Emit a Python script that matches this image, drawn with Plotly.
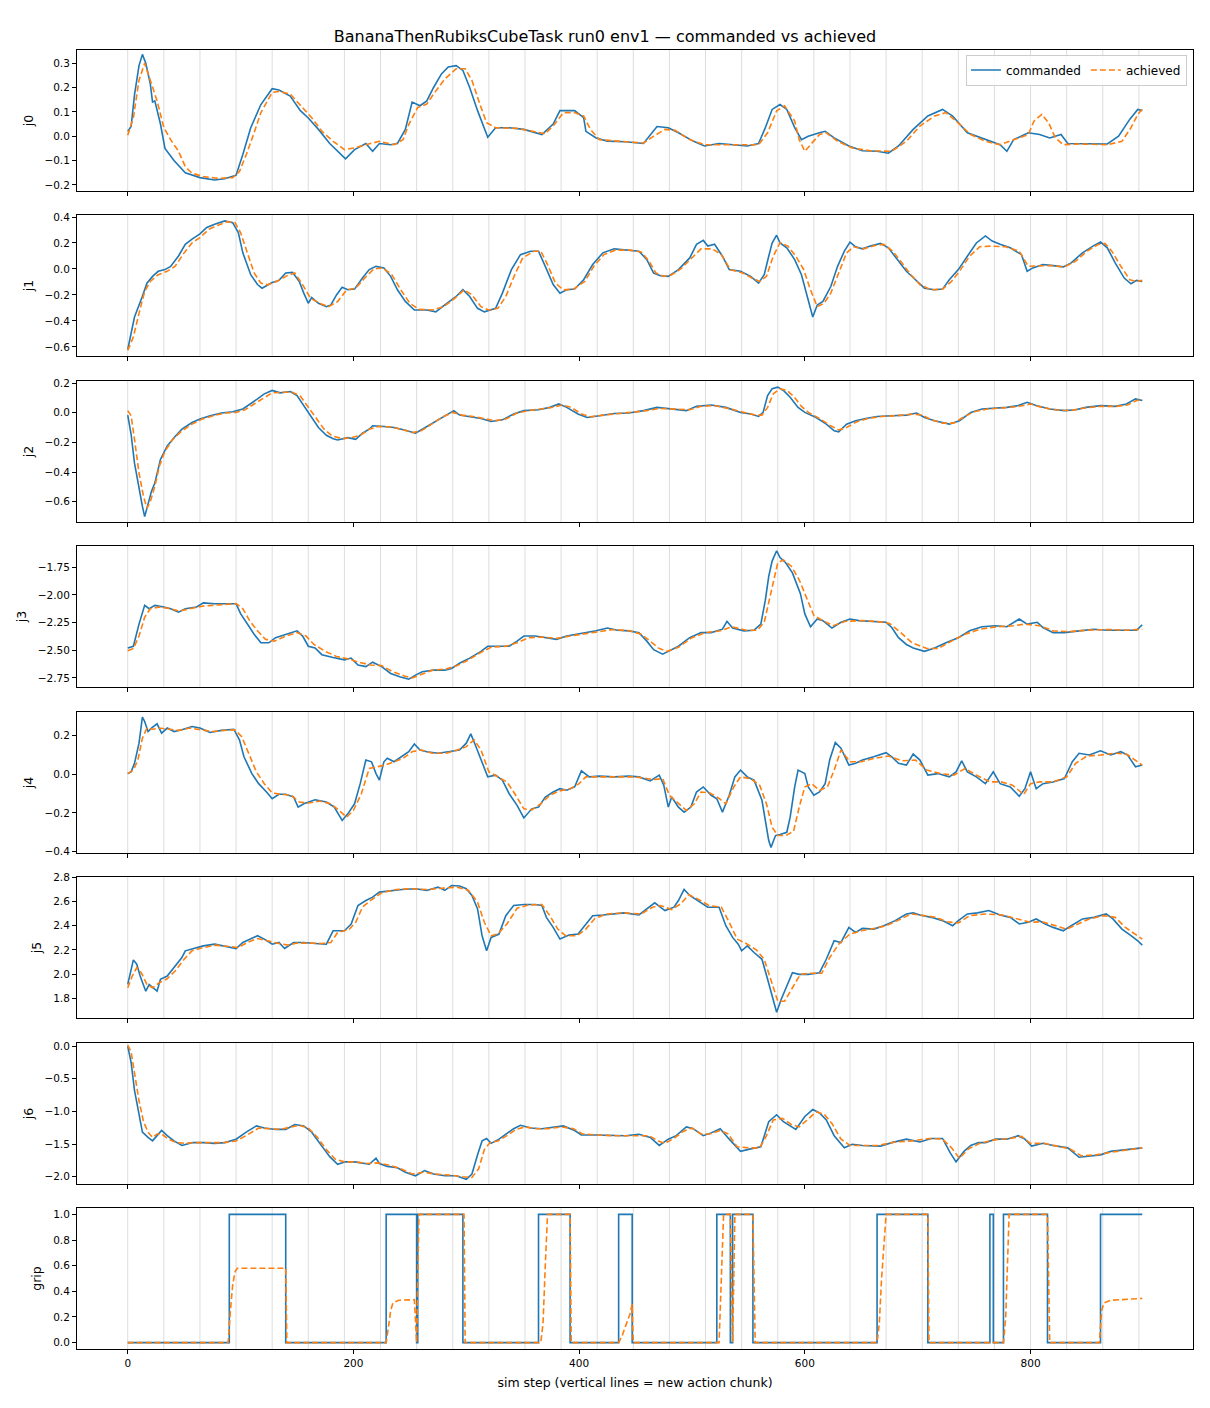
import plotly.graph_objects as go
from plotly.subplots import make_subplots

# sim steps where a new action chunk starts (grey vertical lines)
chunk_steps = [0, 32, 64, 96, 128, 160, 192, 224, 256, 288, 320, 352, 384, 416, 448,
               480, 512, 544, 576, 608, 640, 672, 704, 736, 768, 800, 832, 864, 896]

# ---- j0 ----
j0_cmd_step = [0, 3, 6, 10, 13, 16, 20, 22, 24, 29,
               33, 41, 51, 64, 77, 86, 96, 102, 109, 118,
               128, 134, 144, 153, 160, 169, 179, 186, 193, 201,
               211, 217, 223, 233, 239, 246, 252, 259, 265, 271,
               278, 284, 291, 297, 303, 310, 316, 319, 326, 338,
               351, 367, 377, 383, 396, 404, 406, 415, 425, 441,
               457, 469, 479, 488, 501, 511, 524, 536, 549, 559,
               565, 571, 578, 584, 591, 597, 603, 613, 618, 626,
               639, 651, 664, 674, 683, 696, 709, 722, 731, 744,
               757, 773, 779, 785, 798, 808, 817, 827, 833, 843,
               856, 868, 878, 888, 895, 899]
j0_cmd = [0.02, 0.04, 0.17, 0.29, 0.336, 0.30, 0.215, 0.14, 0.145, 0.05,
          -0.05, -0.10, -0.15, -0.17, -0.18, -0.175, -0.16, -0.075, 0.035, 0.13,
          0.195, 0.19, 0.165, 0.105, 0.075, 0.028, -0.03, -0.062, -0.093, -0.055,
          -0.03, -0.062, -0.03, -0.035, -0.03, 0.028, 0.14, 0.125, 0.145, 0.20,
          0.256, 0.284, 0.29, 0.27, 0.20, 0.105, 0.035, -0.004, 0.035, 0.035,
          0.028, 0.007, 0.05, 0.105, 0.105, 0.076, 0.02, -0.007, -0.02, -0.023,
          -0.03, 0.04, 0.035, 0.014, -0.02, -0.04, -0.03, -0.035, -0.04, -0.03,
          0.035, 0.11, 0.13, 0.11, 0.035, -0.014, 0.0, 0.014, 0.02, -0.007,
          -0.04, -0.06, -0.062, -0.07, -0.04, 0.028, 0.083, 0.11, 0.083, 0.014,
          -0.007, -0.035, -0.062, -0.014, 0.014, 0.007, -0.007, 0.007, -0.03, -0.03,
          -0.032, -0.032, 0.0, 0.07, 0.11, 0.105]
j0_ach_step = [0, 5, 10, 15, 20, 26, 32, 38, 45, 51,
               57, 67, 80, 93, 99, 105, 112, 118, 128, 134,
               144, 153, 163, 172, 182, 192, 201, 211, 223, 236,
               244, 249, 257, 265, 271, 281, 291, 299, 305, 312,
               318, 326, 345, 361, 370, 378, 386, 396, 404, 410,
               418, 441, 457, 466, 476, 485, 498, 511, 536, 559,
               567, 575, 582, 591, 595, 600, 605, 613, 619, 629,
               642, 658, 677, 690, 702, 715, 725, 734, 747, 760,
               773, 785, 798, 803, 810, 816, 822, 829, 843, 868,
               881, 889, 895, 899]
j0_ach = [0.004, 0.076, 0.23, 0.30, 0.23, 0.145, 0.035, -0.014, -0.062, -0.125,
          -0.152, -0.166, -0.173, -0.17, -0.145, -0.076, 0.014, 0.097, 0.18, 0.184,
          0.173, 0.125, 0.076, 0.021, -0.021, -0.055, -0.048, -0.035, -0.021, -0.035,
          -0.014, 0.048, 0.118, 0.132, 0.173, 0.235, 0.277, 0.277, 0.229, 0.132,
          0.055, 0.035, 0.032, 0.018, 0.01, 0.048, 0.097, 0.097, 0.083, 0.028,
          -0.014, -0.023, -0.028, 0.0, 0.028, 0.024, -0.014, -0.035, -0.035, -0.035,
          0.014, 0.104, 0.125, 0.062, -0.014, -0.062, -0.035, 0.007, 0.014, -0.021,
          -0.048, -0.06, -0.062, -0.021, 0.042, 0.083, 0.097, 0.062, 0.007, -0.021,
          -0.035, -0.014, 0.007, 0.062, 0.09, 0.055, -0.007, -0.035, -0.032, -0.035,
          -0.021, 0.035, 0.09, 0.111]

# ---- j1 ----
j1_cmd_step = [0, 6, 13, 17, 22, 27, 33, 38, 45, 51,
               57, 64, 70, 77, 86, 93, 98, 102, 109, 115,
               119, 128, 134, 140, 146, 152, 156, 160, 163, 169,
               176, 180, 185, 190, 195, 201, 208, 214, 220, 227,
               233, 239, 246, 254, 265, 273, 281, 291, 297, 303,
               310, 316, 326, 332, 340, 348, 357, 364, 370, 377,
               383, 389, 396, 404, 412, 421, 431, 440, 453, 460,
               466, 472, 479, 488, 498, 504, 510, 514, 520, 527,
               533, 543, 552, 559, 564, 568, 571, 575, 578, 584,
               591, 597, 603, 607, 611, 616, 623, 629, 635, 640,
               645, 651, 658, 667, 674, 680, 690, 698, 706, 715,
               722, 728, 736, 744, 752, 760, 766, 773, 782, 792,
               797, 802, 811, 820, 829, 836, 846, 856, 862, 868,
               875, 883, 889, 894, 899]
j1_cmd = [-0.62, -0.37, -0.21, -0.11, -0.057, -0.018, -0.005, 0.02, 0.10, 0.19,
          0.23, 0.27, 0.32, 0.345, 0.37, 0.357, 0.28, 0.124, -0.044, -0.12,
          -0.148, -0.104, -0.088, -0.031, -0.026, -0.096, -0.186, -0.264, -0.22, -0.264,
          -0.29, -0.277, -0.2, -0.14, -0.16, -0.155, -0.07, -0.005, 0.02, 0.008,
          -0.057, -0.16, -0.25, -0.316, -0.316, -0.33, -0.277, -0.212, -0.16, -0.212,
          -0.303, -0.33, -0.303, -0.186, -0.005, 0.11, 0.137, 0.137, 0.02, -0.12,
          -0.186, -0.16, -0.155, -0.083, 0.034, 0.124, 0.155, 0.15, 0.137, 0.072,
          -0.031, -0.052, -0.057, -0.005, 0.085, 0.19, 0.22, 0.176, 0.19, 0.098,
          -0.005, -0.018, -0.057, -0.109, -0.044, 0.098, 0.2, 0.26, 0.2, 0.163,
          0.072, -0.044, -0.24, -0.37, -0.277, -0.25, -0.135, 0.02, 0.137, 0.207,
          0.171, 0.155, 0.176, 0.197, 0.163, 0.098, -0.018, -0.083, -0.148, -0.16,
          -0.155, -0.083, -0.005, 0.098, 0.2, 0.254, 0.215, 0.19, 0.163, 0.11,
          -0.018, 0.008, 0.034, 0.026, 0.016, 0.047, 0.124, 0.18, 0.207, 0.163,
          0.047, -0.07, -0.114, -0.088, -0.096]
j1_ach_step = [0, 5, 10, 15, 20, 27, 35, 42, 50, 57,
               64, 72, 80, 88, 95, 100, 106, 112, 118, 124,
               132, 140, 148, 155, 162, 170, 178, 186, 194, 202,
               210, 218, 226, 234, 242, 250, 258, 270, 280, 290,
               298, 305, 313, 320, 328, 335, 343, 350, 360, 366,
               372, 379, 386, 395, 405, 413, 422, 432, 445, 455,
               462, 468, 475, 482, 490, 500, 508, 518, 526, 534,
               545, 553, 560, 566, 572, 578, 585, 592, 599, 605,
               611, 617, 623, 630, 637, 643, 652, 662, 670, 678,
               686, 694, 702, 712, 722, 730, 738, 746, 755, 765,
               778, 790, 798, 806, 818, 830, 840, 850, 860, 866,
               872, 880, 888, 894, 899]
j1_ach = [-0.627, -0.523, -0.342, -0.174, -0.096, -0.044, -0.018, 0.021, 0.124, 0.202,
          0.241, 0.306, 0.337, 0.363, 0.357, 0.28, 0.124, -0.031, -0.109, -0.122,
          -0.096, -0.057, -0.031, -0.122, -0.225, -0.264, -0.29, -0.251, -0.161, -0.148,
          -0.07, 0.0, 0.008, -0.044, -0.161, -0.264, -0.311, -0.316, -0.29, -0.225,
          -0.161, -0.199, -0.29, -0.316, -0.303, -0.212, -0.044, 0.085, 0.137, 0.137,
          0.034, -0.109, -0.161, -0.155, -0.096, 0.021, 0.111, 0.145, 0.145, 0.13,
          0.06, -0.031, -0.057, -0.044, 0.0, 0.085, 0.155, 0.155, 0.111, -0.005,
          -0.031, -0.07, -0.096, -0.057, 0.098, 0.202, 0.176, 0.098, -0.005, -0.161,
          -0.29, -0.264, -0.186, -0.031, 0.124, 0.171, 0.155, 0.181, 0.189, 0.137,
          0.047, -0.044, -0.122, -0.161, -0.155, -0.096, -0.005, 0.098, 0.171, 0.176,
          0.171, 0.137, 0.021, 0.021, 0.026, 0.016, 0.06, 0.137, 0.189, 0.197,
          0.137, 0.021, -0.083, -0.096, -0.088]

# ---- j2 ----
j2_cmd_step = [0, 3, 6, 10, 13, 15, 18, 21, 24, 29,
               35, 41, 48, 57, 64, 73, 83, 93, 102, 109,
               115, 121, 128, 135, 144, 150, 156, 163, 169, 176,
               182, 186, 195, 202, 208, 214, 217, 227, 236, 246,
               255, 261, 271, 281, 289, 294, 303, 313, 322, 332,
               342, 351, 364, 374, 382, 389, 399, 407, 418, 431,
               444, 457, 469, 482, 495, 504, 517, 530, 543, 552,
               559, 563, 567, 571, 576, 581, 587, 594, 600, 610,
               619, 626, 630, 637, 645, 654, 664, 677, 690, 699,
               706, 715, 728, 737, 747, 757, 769, 779, 789, 797,
               805, 817, 830, 840, 849, 862, 875, 885, 893, 899]
j2_cmd = [-0.016, -0.145, -0.34, -0.52, -0.63, -0.70, -0.61, -0.53, -0.474, -0.315,
          -0.224, -0.168, -0.111, -0.066, -0.043, -0.02, -0.002, 0.007, 0.025, 0.059,
          0.093, 0.127, 0.15, 0.134, 0.143, 0.116, 0.048, -0.032, -0.1, -0.152,
          -0.175, -0.184, -0.168, -0.179, -0.138, -0.111, -0.088, -0.093, -0.1, -0.118,
          -0.138, -0.111, -0.066, -0.02, 0.014, -0.016, -0.025, -0.039, -0.059, -0.048,
          -0.009, 0.014, 0.02, 0.036, 0.059, 0.036, -0.009, -0.032, -0.02, -0.005,
          -0.002, 0.014, 0.036, 0.025, 0.014, 0.043, 0.052, 0.036, 0.002, -0.009,
          -0.025, 0.002, 0.116, 0.161, 0.172, 0.15, 0.104, 0.036, 0.002, -0.032,
          -0.077, -0.122, -0.129, -0.077, -0.054, -0.039, -0.025, -0.02, -0.016, -0.002,
          -0.032, -0.054, -0.077, -0.054, 0.002, 0.025, 0.029, 0.036, 0.048, 0.07,
          0.048, 0.025, 0.014, 0.02, 0.036, 0.048, 0.043, 0.059, 0.093, 0.082]
j2_ach_step = [0, 3, 6, 10, 14, 17, 20, 24, 28, 33,
               40, 48, 57, 66, 76, 86, 96, 104, 112, 120,
               128, 138, 146, 153, 160, 167, 174, 181, 190, 198,
               206, 214, 222, 232, 242, 252, 260, 268, 278, 288,
               296, 306, 316, 325, 335, 345, 355, 366, 376, 385,
               393, 402, 410, 422, 440, 460, 472, 486, 498, 508,
               520, 532, 546, 556, 562, 567, 572, 578, 584, 590,
               597, 604, 613, 622, 630, 637, 646, 656, 668, 682,
               696, 704, 712, 722, 732, 740, 750, 762, 775, 790,
               800, 810, 822, 835, 848, 862, 876, 886, 894, 899]
j2_ach = [0.014, -0.02, -0.179, -0.406, -0.565, -0.644, -0.599, -0.497, -0.361, -0.259,
          -0.179, -0.122, -0.077, -0.043, -0.02, -0.002, 0.002, 0.02, 0.059, 0.098,
          0.134, 0.138, 0.138, 0.111, 0.036, -0.043, -0.111, -0.156, -0.175, -0.168,
          -0.152, -0.111, -0.093, -0.095, -0.111, -0.134, -0.122, -0.084, -0.032, 0.002,
          -0.016, -0.025, -0.039, -0.054, -0.043, -0.002, 0.014, 0.025, 0.036, 0.052,
          0.036, -0.009, -0.027, -0.016, -0.002, 0.014, 0.029, 0.025, 0.02, 0.043,
          0.048, 0.029, 0.002, -0.016, -0.016, 0.036, 0.127, 0.161, 0.15, 0.111,
          0.043, -0.002, -0.039, -0.084, -0.116, -0.1, -0.061, -0.039, -0.025, -0.02,
          -0.009, -0.016, -0.048, -0.07, -0.07, -0.032, 0.007, 0.025, 0.032, 0.043,
          0.059, 0.036, 0.02, 0.014, 0.032, 0.043, 0.043, 0.052, 0.082, 0.088]

# ---- j3 ----
j3_cmd_step = [0, 5, 10, 15, 19, 24, 32, 38, 45, 51,
               61, 67, 77, 86, 96, 100, 105, 112, 118, 125,
               131, 140, 150, 155, 160, 166, 172, 182, 192, 198,
               204, 211, 217, 225, 233, 241, 249, 255, 261, 271,
               281, 287, 294, 303, 313, 319, 329, 338, 345, 351,
               361, 370, 380, 389, 399, 409, 415, 425, 434, 444,
               453, 460, 466, 474, 480, 488, 498, 508, 517, 527,
               531, 536, 546, 555, 561, 565, 568, 571, 575, 578,
               583, 589, 596, 600, 605, 611, 616, 624, 632, 640,
               648, 658, 667, 672, 677, 683, 690, 696, 706, 715,
               725, 736, 746, 757, 769, 779, 790, 797, 806, 811,
               820, 830, 843, 856, 868, 881, 894, 899]
j3_cmd = [-2.479, -2.464, -2.264, -2.095, -2.125, -2.095, -2.11, -2.125, -2.156, -2.125,
          -2.11, -2.073, -2.08, -2.08, -2.08, -2.17, -2.248, -2.356, -2.433, -2.433,
          -2.387, -2.356, -2.325, -2.372, -2.464, -2.479, -2.54, -2.565, -2.587, -2.571,
          -2.633, -2.648, -2.608, -2.648, -2.71, -2.74, -2.762, -2.725, -2.695, -2.68,
          -2.68, -2.664, -2.618, -2.571, -2.51, -2.464, -2.464, -2.464, -2.418, -2.372,
          -2.372, -2.387, -2.402, -2.372, -2.356, -2.341, -2.325, -2.30, -2.319, -2.325,
          -2.341, -2.418, -2.495, -2.535, -2.504, -2.464, -2.387, -2.341, -2.341, -2.31,
          -2.239, -2.30, -2.325, -2.319, -2.264, -2.048, -1.833, -1.695, -1.602, -1.664,
          -1.71, -1.802, -1.987, -2.172, -2.288, -2.218, -2.233, -2.30, -2.248, -2.218,
          -2.233, -2.239, -2.248, -2.248, -2.295, -2.387, -2.448, -2.479, -2.51, -2.479,
          -2.433, -2.387, -2.325, -2.288, -2.279, -2.288, -2.218, -2.264, -2.248, -2.295,
          -2.341, -2.341, -2.325, -2.31, -2.319, -2.319, -2.319, -2.27]
j3_ach_step = [0, 5, 10, 15, 20, 28, 38, 46, 55, 65,
               75, 85, 96, 102, 108, 115, 122, 130, 140, 150,
               158, 165, 175, 185, 195, 205, 215, 225, 235, 245,
               252, 260, 270, 282, 292, 302, 312, 322, 335, 345,
               355, 368, 380, 392, 405, 418, 430, 445, 455, 463,
               470, 478, 488, 500, 512, 525, 535, 548, 558, 564,
               570, 576, 581, 588, 595, 602, 608, 615, 625, 636,
               650, 665, 675, 685, 695, 708, 718, 730, 742, 755,
               770, 785, 795, 808, 820, 835, 850, 870, 885, 899]
j3_ach = [-2.504, -2.485, -2.372, -2.202, -2.125, -2.11, -2.125, -2.147, -2.125, -2.104,
          -2.095, -2.085, -2.079, -2.125, -2.233, -2.325, -2.402, -2.418, -2.372, -2.34,
          -2.372, -2.448, -2.51, -2.556, -2.578, -2.608, -2.633, -2.639, -2.695, -2.732,
          -2.75, -2.72, -2.68, -2.67, -2.639, -2.587, -2.525, -2.473, -2.464, -2.433,
          -2.387, -2.381, -2.393, -2.372, -2.35, -2.332, -2.313, -2.325, -2.356, -2.418,
          -2.479, -2.51, -2.473, -2.387, -2.341, -2.325, -2.288, -2.319, -2.319, -2.248,
          -1.987, -1.71, -1.685, -1.741, -1.864, -2.048, -2.187, -2.227, -2.279, -2.239,
          -2.233, -2.242, -2.258, -2.341, -2.433, -2.485, -2.485, -2.418, -2.356, -2.31,
          -2.288, -2.279, -2.264, -2.279, -2.325, -2.332, -2.319, -2.313, -2.319, -2.31]

# ---- j4 ----
j4_cmd_step = [0, 3, 6, 10, 13, 15, 18, 21, 26, 30,
               35, 41, 48, 57, 64, 73, 83, 94, 99, 103,
               110, 116, 123, 128, 134, 140, 147, 151, 156, 166,
               176, 183, 190, 195, 201, 206, 211, 216, 220, 223,
               227, 230, 236, 243, 249, 254, 259, 265, 275, 284,
               294, 300, 304, 308, 314, 319, 326, 332, 338, 345,
               351, 358, 364, 370, 377, 383, 389, 396, 402, 409,
               418, 431, 444, 453, 463, 471, 475, 479, 482, 488,
               493, 499, 504, 510, 517, 522, 527, 533, 538, 543,
               549, 555, 562, 565, 568, 570, 574, 578, 584, 587,
               591, 594, 600, 603, 608, 613, 618, 622, 627, 632,
               639, 645, 651, 661, 672, 677, 683, 690, 696, 702,
               709, 718, 728, 734, 739, 744, 752, 760, 767, 773,
               782, 790, 795, 800, 805, 811, 820, 830, 837, 843,
               852, 862, 871, 880, 886, 893, 899]
j4_cmd = [0.003, 0.012, 0.056, 0.16, 0.295, 0.272, 0.22, 0.238, 0.26, 0.212,
          0.238, 0.22, 0.229, 0.246, 0.238, 0.215, 0.226, 0.232, 0.177, 0.09,
          0.003, -0.049, -0.092, -0.127, -0.104, -0.104, -0.118, -0.17, -0.153, -0.132,
          -0.144, -0.17, -0.239, -0.205, -0.153, -0.049, 0.073, 0.064, 0.003, -0.031,
          0.064, 0.082, 0.064, 0.09, 0.116, 0.156, 0.125, 0.116, 0.108, 0.116,
          0.125, 0.16, 0.208, 0.151, 0.056, -0.014, -0.005, -0.031, -0.101, -0.161,
          -0.226, -0.179, -0.17, -0.118, -0.092, -0.075, -0.083, -0.066, 0.017, -0.014,
          -0.01, -0.014, -0.01, -0.014, -0.035, -0.005, -0.057, -0.17, -0.118, -0.17,
          -0.196, -0.17, -0.092, -0.066, -0.109, -0.127, -0.196, -0.109, -0.014, 0.021,
          -0.014, -0.031, -0.135, -0.239, -0.343, -0.378, -0.317, -0.312, -0.30, -0.222,
          -0.066, 0.021, 0.003, -0.066, -0.109, -0.092, -0.049, 0.073, 0.163, 0.134,
          0.047, 0.056, 0.073, 0.09, 0.111, 0.09, 0.056, 0.047, 0.104, 0.073,
          -0.005, 0.003, -0.014, 0.012, 0.069, 0.012, -0.014, -0.049, 0.012, -0.049,
          -0.066, -0.114, -0.075, 0.012, -0.075, -0.049, -0.04, -0.023, 0.064, 0.108,
          0.099, 0.121, 0.099, 0.116, 0.099, 0.038, 0.047]
j4_ach_step = [0, 5, 9, 13, 17, 22, 28, 35, 45, 55,
               65, 75, 85, 95, 101, 107, 114, 121, 128, 136,
               145, 152, 160, 170, 180, 188, 194, 200, 207, 214,
               220, 228, 236, 244, 252, 260, 270, 282, 292, 300,
               307, 313, 320, 328, 336, 343, 351, 358, 366, 374,
               382, 392, 400, 406, 415, 430, 450, 466, 474, 480,
               488, 495, 502, 508, 516, 523, 530, 537, 543, 552,
               560, 566, 571, 576, 583, 590, 595, 600, 606, 613,
               620, 626, 632, 640, 650, 662, 674, 686, 698, 708,
               720, 732, 742, 752, 764, 774, 784, 794, 800, 808,
               820, 832, 840, 850, 862, 875, 885, 893, 899]
j4_ach = [0.003, 0.021, 0.073, 0.186, 0.238, 0.232, 0.238, 0.232, 0.226, 0.238,
          0.229, 0.22, 0.226, 0.229, 0.194, 0.108, 0.012, -0.049, -0.097, -0.104,
          -0.109, -0.144, -0.149, -0.139, -0.153, -0.191, -0.222, -0.187, -0.101, 0.029,
          0.038, 0.047, 0.064, 0.082, 0.116, 0.125, 0.108, 0.108, 0.125, 0.142,
          0.177, 0.125, 0.012, -0.014, -0.04, -0.101, -0.179, -0.184, -0.153, -0.109,
          -0.087, -0.075, -0.049, -0.014, -0.014, -0.014, -0.014, -0.028, -0.023, -0.109,
          -0.153, -0.187, -0.153, -0.092, -0.097, -0.121, -0.153, -0.066, -0.014, -0.023,
          -0.057, -0.153, -0.274, -0.317, -0.317, -0.295, -0.17, -0.066, -0.049, -0.083,
          -0.066, 0.021, 0.125, 0.064, 0.064, 0.082, 0.094, 0.069, 0.073, 0.021,
          0.003, -0.005, 0.029, -0.005, -0.04, -0.04, -0.057, -0.104, -0.049, -0.04,
          -0.04, -0.014, 0.056, 0.094, 0.099, 0.108, 0.104, 0.073, 0.047]

# ---- j5 ----
j5_cmd_step = [0, 3, 5, 8, 11, 16, 19, 26, 29, 35,
               41, 48, 51, 57, 67, 77, 86, 96, 102, 109,
               115, 121, 128, 134, 139, 147, 156, 166, 176, 182,
               192, 198, 204, 211, 217, 223, 233, 243, 255, 265,
               275, 281, 287, 294, 300, 305, 310, 314, 318, 322,
               329, 335, 342, 351, 361, 367, 371, 377, 383, 391,
               399, 405, 412, 421, 431, 440, 453, 460, 467, 476,
               484, 488, 493, 498, 505, 514, 524, 530, 536, 541,
               544, 549, 555, 562, 567, 571, 575, 579, 584, 589,
               595, 603, 613, 619, 626, 632, 639, 645, 651, 661,
               670, 680, 690, 696, 702, 712, 722, 731, 736, 744,
               753, 763, 773, 782, 790, 798, 805, 813, 820, 829,
               836, 846, 856, 867, 873, 881, 889, 895, 899]
j5_cmd = [1.914, 2.039, 2.117, 2.081, 1.983, 1.858, 1.914, 1.858, 1.956, 1.983,
          2.053, 2.136, 2.192, 2.206, 2.233, 2.247, 2.228, 2.211, 2.261, 2.289,
          2.317, 2.289, 2.247, 2.261, 2.211, 2.261, 2.261, 2.253, 2.247, 2.358,
          2.358, 2.414, 2.567, 2.608, 2.636, 2.678, 2.692, 2.70, 2.706, 2.692,
          2.719, 2.692, 2.733, 2.728, 2.706, 2.65, 2.539, 2.317, 2.192, 2.303,
          2.331, 2.483, 2.567, 2.575, 2.575, 2.567, 2.469, 2.386, 2.289, 2.322,
          2.331, 2.40, 2.483, 2.489, 2.497, 2.506, 2.489, 2.539, 2.589, 2.525,
          2.553, 2.608, 2.70, 2.65, 2.608, 2.553, 2.553, 2.40, 2.303, 2.247,
          2.192, 2.233, 2.178, 2.122, 1.956, 1.817, 1.683, 1.789, 1.90, 2.011,
          1.997, 1.997, 2.011, 2.122, 2.275, 2.261, 2.386, 2.344, 2.378, 2.372,
          2.40, 2.442, 2.497, 2.506, 2.489, 2.469, 2.442, 2.40, 2.442, 2.497,
          2.506, 2.525, 2.489, 2.469, 2.414, 2.428, 2.456, 2.414, 2.386, 2.358,
          2.40, 2.456, 2.469, 2.497, 2.456, 2.372, 2.317, 2.275, 2.239]
j5_ach_step = [0, 4, 8, 12, 17, 22, 28, 35, 42, 50,
               57, 67, 78, 88, 98, 106, 115, 124, 132, 142,
               150, 160, 172, 180, 186, 196, 202, 208, 215, 225,
               238, 250, 265, 280, 292, 302, 310, 316, 322, 328,
               336, 345, 355, 367, 374, 381, 388, 398, 406, 414,
               425, 440, 455, 465, 472, 482, 490, 497, 505, 515,
               526, 533, 540, 548, 557, 564, 570, 576, 582, 589,
               596, 605, 615, 622, 630, 640, 650, 662, 672, 682,
               694, 706, 716, 726, 736, 746, 760, 775, 788, 800,
               810, 822, 832, 842, 852, 865, 875, 884, 892, 899]
j5_ach = [1.886, 1.983, 2.053, 2.011, 1.914, 1.886, 1.928, 1.961, 2.025, 2.122,
          2.192, 2.219, 2.239, 2.228, 2.219, 2.261, 2.294, 2.275, 2.256, 2.239,
          2.256, 2.256, 2.253, 2.261, 2.344, 2.367, 2.428, 2.553, 2.608, 2.672,
          2.70, 2.706, 2.70, 2.711, 2.719, 2.692, 2.594, 2.428, 2.317, 2.331,
          2.414, 2.544, 2.572, 2.575, 2.483, 2.372, 2.317, 2.317, 2.372, 2.461,
          2.497, 2.506, 2.497, 2.553, 2.567, 2.533, 2.581, 2.656, 2.622, 2.567,
          2.553, 2.428, 2.289, 2.253, 2.20, 2.122, 1.956, 1.775, 1.775, 1.886,
          1.997, 2.006, 2.006, 2.136, 2.247, 2.331, 2.358, 2.378, 2.40, 2.442,
          2.497, 2.483, 2.469, 2.433, 2.422, 2.483, 2.497, 2.489, 2.456, 2.428,
          2.433, 2.40, 2.372, 2.414, 2.456, 2.483, 2.469, 2.386, 2.331, 2.289]

# ---- j6 ----
j6_cmd_step = [0, 3, 6, 10, 13, 18, 22, 26, 30, 35,
               41, 48, 57, 67, 77, 86, 96, 105, 114, 121,
               131, 140, 148, 156, 163, 172, 179, 186, 193, 201,
               208, 214, 220, 223, 230, 239, 246, 255, 263, 271,
               281, 291, 300, 305, 310, 314, 318, 322, 329, 335,
               342, 348, 357, 367, 377, 386, 396, 402, 415, 428,
               441, 453, 463, 471, 479, 486, 495, 501, 510, 517,
               525, 533, 543, 552, 561, 568, 575, 581, 587, 592,
               600, 607, 613, 619, 626, 635, 642, 651, 667, 677,
               690, 702, 712, 722, 729, 734, 741, 747, 754, 760,
               769, 779, 789, 795, 801, 811, 820, 833, 843, 852,
               862, 871, 881, 891, 899]
j6_cmd = [0.0, -0.25, -0.677, -1.05, -1.317, -1.397, -1.45, -1.37, -1.29, -1.37,
          -1.45, -1.52, -1.477, -1.477, -1.488, -1.477, -1.424, -1.317, -1.221, -1.253,
          -1.275, -1.275, -1.20, -1.221, -1.317, -1.531, -1.691, -1.808, -1.771, -1.771,
          -1.787, -1.808, -1.717, -1.797, -1.84, -1.861, -1.931, -1.984, -1.904, -1.957,
          -1.984, -1.984, -2.037, -1.957, -1.664, -1.451, -1.413, -1.488, -1.424, -1.344,
          -1.264, -1.211, -1.253, -1.264, -1.237, -1.221, -1.291, -1.36, -1.36, -1.371,
          -1.371, -1.349, -1.397, -1.52, -1.424, -1.371, -1.237, -1.264, -1.371, -1.328,
          -1.264, -1.424, -1.611, -1.573, -1.541, -1.157, -1.051, -1.157, -1.221, -1.275,
          -1.077, -0.971, -1.024, -1.131, -1.371, -1.557, -1.504, -1.52, -1.531, -1.477,
          -1.424, -1.467, -1.413, -1.413, -1.637, -1.771, -1.611, -1.52, -1.477, -1.477,
          -1.424, -1.424, -1.371, -1.424, -1.531, -1.488, -1.52, -1.557, -1.701, -1.68,
          -1.664, -1.611, -1.595, -1.573, -1.557]
j6_ach_step = [0, 3, 6, 10, 14, 18, 22, 26, 30, 36,
               43, 50, 60, 72, 85, 96, 106, 116, 125, 135,
               145, 152, 160, 168, 176, 184, 192, 202, 212, 222,
               232, 242, 252, 262, 272, 285, 297, 305, 311, 316,
               321, 328, 336, 344, 352, 362, 372, 384, 395, 403,
               415, 430, 450, 462, 470, 476, 484, 492, 500, 508,
               516, 525, 532, 540, 550, 560, 566, 572, 580, 588,
               595, 602, 610, 617, 624, 632, 640, 650, 665, 680,
               695, 710, 722, 730, 737, 745, 755, 768, 782, 792,
               800, 812, 825, 835, 845, 858, 870, 882, 892, 899]
j6_ach = [0.016, -0.09, -0.41, -0.837, -1.157, -1.317, -1.397, -1.344, -1.344, -1.424,
          -1.477, -1.488, -1.477, -1.477, -1.477, -1.451, -1.36, -1.253, -1.264, -1.275,
          -1.237, -1.211, -1.253, -1.397, -1.584, -1.733, -1.771, -1.771, -1.797, -1.787,
          -1.824, -1.877, -1.957, -1.931, -1.957, -1.973, -2.0, -2.011, -1.877, -1.584,
          -1.477, -1.451, -1.371, -1.275, -1.237, -1.264, -1.264, -1.237, -1.264, -1.344,
          -1.36, -1.371, -1.371, -1.371, -1.451, -1.488, -1.413, -1.307, -1.253, -1.344,
          -1.344, -1.291, -1.344, -1.541, -1.557, -1.557, -1.371, -1.131, -1.104, -1.2,
          -1.237, -1.131, -1.008, -1.04, -1.184, -1.424, -1.52, -1.52, -1.52, -1.467,
          -1.451, -1.413, -1.424, -1.557, -1.717, -1.573, -1.488, -1.435, -1.413, -1.381,
          -1.488, -1.488, -1.531, -1.573, -1.68, -1.664, -1.627, -1.595, -1.573, -1.557]

# ---- grip (commanded is a step signal: value holds until the next step listed) ----
grip_cmd_step = [0, 90, 140, 229, 256, 257, 297, 364, 392, 435, 447, 522, 534, 536,
                 554, 664, 709, 764, 767, 776, 815, 862, 899]
grip_cmd = [0, 1, 0, 1, 0, 1, 0, 1, 0, 1, 0, 1, 0, 1,
            0, 1, 0, 1, 0, 1, 0, 1, 1]
grip_ach_step = [0, 89, 91, 93, 95, 97, 140, 141, 229, 230,
                 231, 233, 235, 240, 254, 256, 258, 298, 299, 366,
                 368, 370, 372, 392, 393, 435, 438, 442, 445, 447,
                 448, 524, 526, 528, 534, 536, 538, 554, 556, 664,
                 666, 668, 672, 709, 710, 776, 778, 779, 781, 815,
                 817, 861, 863, 865, 871, 899]
grip_ach = [0, 0, 0.25, 0.45, 0.55, 0.58, 0.58, 0, 0, 0.05,
            0.12, 0.25, 0.31, 0.33, 0.335, 0, 1, 1, 0, 0,
            0.15, 0.6, 1, 1, 0, 0, 0.05, 0.15, 0.22, 0.3,
            0, 0, 0.5, 1, 1, 0, 1, 1, 0, 0,
            0.15, 0.5, 1, 1, 0, 0, 0.2, 0.45, 1, 1,
            0, 0, 0.25, 0.31, 0.33, 0.345]

# name, series, y range, tick spacing, tick format
panels = [
    ("j0", j0_cmd_step, j0_cmd, j0_ach_step, j0_ach, [-0.225, 0.354], 0.1, ".1f"),
    ("j1", j1_cmd_step, j1_cmd, j1_ach_step, j1_ach, [-0.67, 0.4155], 0.2, ".1f"),
    ("j2", j2_cmd_step, j2_cmd, j2_ach_step, j2_ach, [-0.736, 0.2136], 0.2, ".1f"),
    ("j3", j3_cmd_step, j3_cmd, j3_ach_step, j3_ach, [-2.832, -1.559], 0.25, ".2f"),
    ("j4", j4_cmd_step, j4_cmd, j4_ach_step, j4_ach, [-0.407, 0.321], 0.2, ".1f"),
    ("j5", j5_cmd_step, j5_cmd, j5_ach_step, j5_ach, [1.636, 2.803], 0.2, ".1f"),
    ("j6", j6_cmd_step, j6_cmd, j6_ach_step, j6_ach, [-2.11, 0.047], 0.5, ".1f"),
    ("grip", grip_cmd_step, grip_cmd, grip_ach_step, grip_ach, [-0.05, 1.05], 0.2, ".1f"),
]

for p in panels:
    assert len(p[1]) == len(p[2]), (p[0], "cmd", len(p[1]), len(p[2]))
    assert len(p[3]) == len(p[4]), (p[0], "ach", len(p[3]), len(p[4]))

BLUE = "#1f77b4"
ORANGE = "#ff7f0e"
FONT = "DejaVu Sans"

fig = make_subplots(rows=8, cols=1, shared_xaxes=True, vertical_spacing=0.02)

# page body adds an 8px offset, so layout is placed 8px up/left of the target
H_TOP, H_BOT = 42, 1341
span = H_BOT - H_TOP
panel_h = 141
panel_tops = [42, 207, 373, 538, 704, 869, 1035, 1200]

for i, (name, xc, yc, xa, ya, yr, dt, fmt) in enumerate(panels, start=1):
    fig.add_trace(go.Scatter(
        x=xc, y=yc, mode="lines", name="commanded", legendgroup="cmd",
        showlegend=(i == 1),
        line=dict(color=BLUE, width=1.6, shape="hv" if name == "grip" else "linear"),
    ), row=i, col=1)
    fig.add_trace(go.Scatter(
        x=xa, y=ya, mode="lines", name="achieved", legendgroup="ach",
        showlegend=(i == 1),
        line=dict(color=ORANGE, width=1.6, dash="6px,3px"),
    ), row=i, col=1)

    top = panel_tops[i - 1]
    dom = [(H_BOT - top - panel_h) / span, (H_BOT - top) / span]
    ysuf = "" if i == 1 else str(i)
    fig.update_layout({
        f"yaxis{ysuf}": dict(
            domain=dom, range=yr, dtick=dt, tick0=0, tickformat=fmt,
            title=dict(text=name, font=dict(size=12.5, family=FONT, color="black"), standoff=8),
            showgrid=False, zeroline=False,
            showline=True, mirror=True, linecolor="black", linewidth=1,
            ticks="outside", ticklen=4, tickcolor="black",
            tickfont=dict(size=10.5, family=FONT, color="black"),
        ),
        f"xaxis{ysuf}": dict(
            range=[-44.95, 943.95], tick0=0, dtick=200,
            showgrid=False, zeroline=False,
            showline=True, mirror=True, linecolor="black", linewidth=1,
            ticks="outside", ticklen=4, tickcolor="black",
            tickfont=dict(size=10.5, family=FONT, color="black"),
        ),
    })

    # action chunk boundaries
    for c in chunk_steps:
        fig.add_shape(type="line", x0=c, x1=c, y0=0, y1=1,
                      xref=f"x{ysuf}", yref=f"y{ysuf} domain",
                      line=dict(color="#dddddd", width=1), layer="below")

fig.update_layout(
    xaxis8=dict(title=dict(text="sim step (vertical lines = new action chunk)",
                           font=dict(size=12.5, family=FONT, color="black"), standoff=10)),
    title=dict(text="BananaThenRubiksCubeTask run0 env1 — commanded vs achieved",
               x=597 / 1210, xref="container", y=1 - 28 / 1408, yanchor="middle",
               font=dict(size=16, family=FONT, color="black")),
    width=1210, height=1408,
    margin=dict(l=69, r=25, t=H_TOP, b=1408 - H_BOT),
    plot_bgcolor="white", paper_bgcolor="white",
    font=dict(family=FONT, color="black"),
    legend=dict(orientation="h", x=0.9946, xanchor="right", y=0.9965, yanchor="top",
                bgcolor="rgba(255,255,255,0.85)", bordercolor="#cccccc", borderwidth=1,
                font=dict(size=12, family=FONT, color="black")),
    showlegend=True,
)

fig.write_html("out.html")
